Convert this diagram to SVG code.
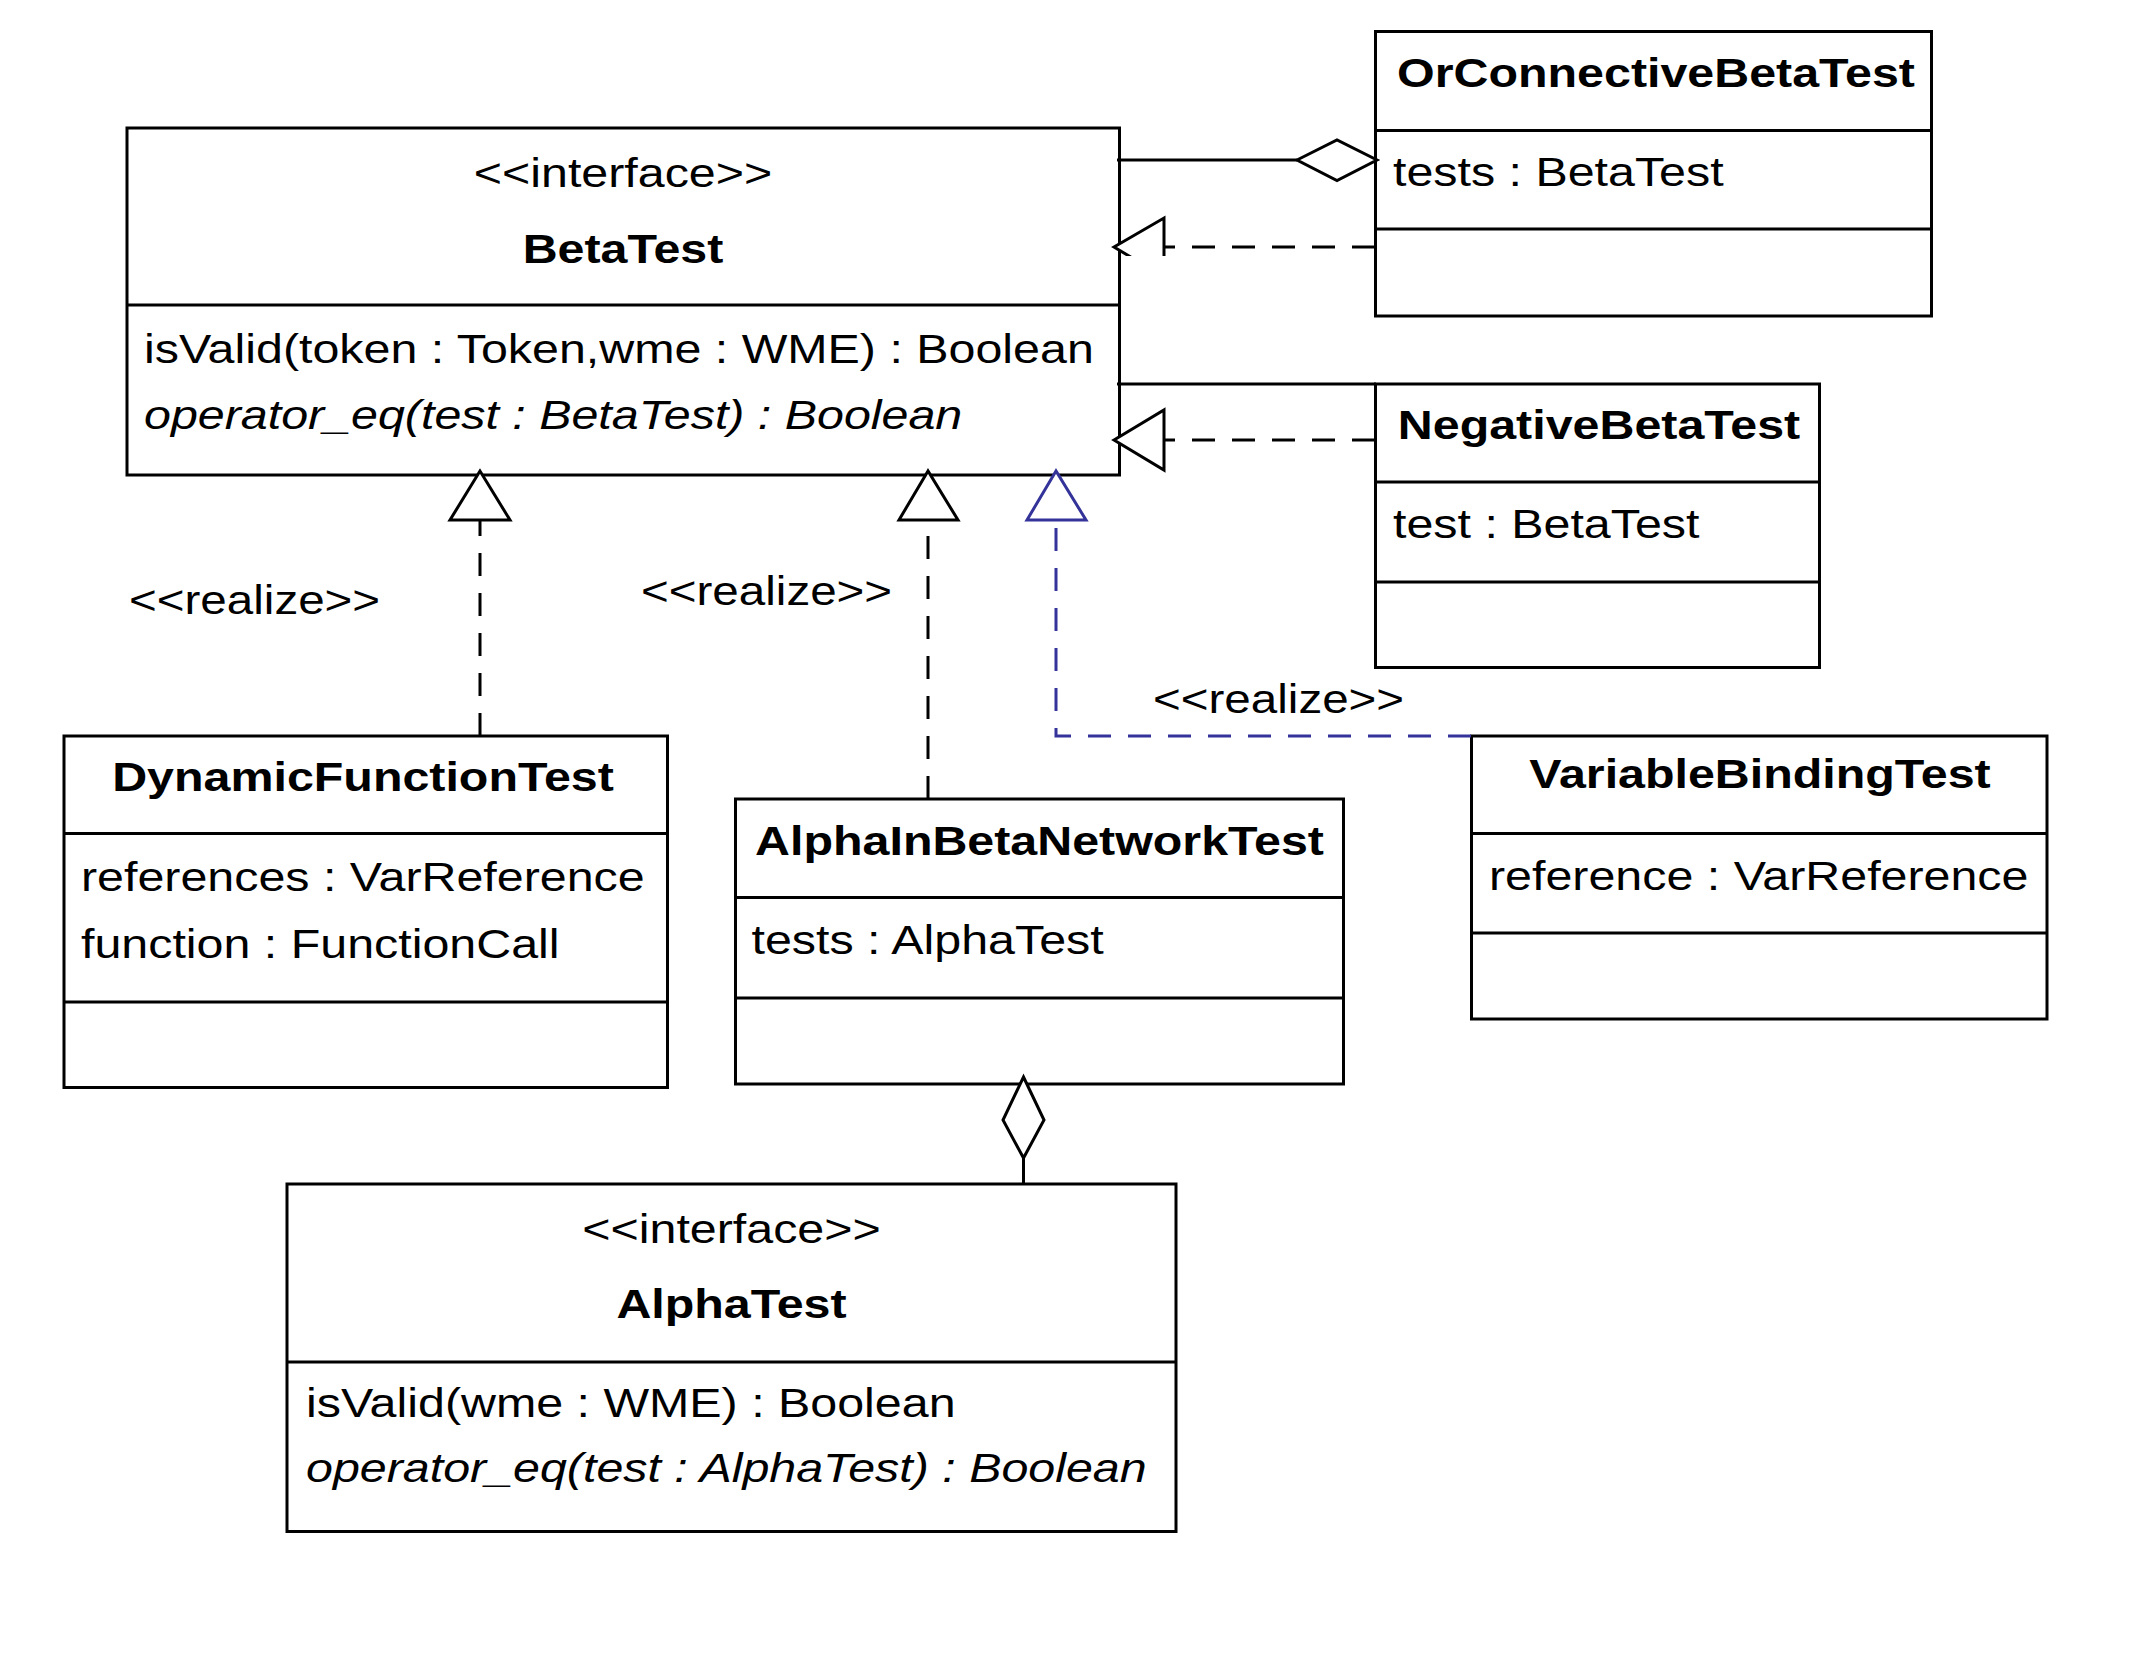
<svg xmlns="http://www.w3.org/2000/svg" width="2136" height="1660" viewBox="0 0 2136 1660">
<style>
  .box { fill: #ffffff; stroke: #000000; stroke-width: 3; }
  .div { stroke: #000000; stroke-width: 3; fill: none; }
  text { font-family: "Liberation Sans", Arial, sans-serif; font-size: 41px; fill: #000000; }
  .title { font-weight: bold; text-anchor: middle; }
  .center { text-anchor: middle; }
  .it { font-style: italic; }
  .solid { stroke: #000000; stroke-width: 3; fill: none; }
  .dash { stroke: #000000; stroke-width: 3; fill: none; stroke-dasharray: 23 17; }
  .dashblue { stroke: #333399; stroke-width: 3; fill: none; stroke-dasharray: 23 17; }
  .tri { fill: #ffffff; stroke: #000000; stroke-width: 3; }
  .triblue { fill: #ffffff; stroke: #333399; stroke-width: 3; }
  .dia { fill: #ffffff; stroke: #000000; stroke-width: 3; }
</style>
<defs>
  <clipPath id="clipTop">
    <rect x="1100" y="200" width="80" height="56"/>
  </clipPath>
</defs>
<rect width="2136" height="1660" fill="#ffffff"/>

<g id="BetaTest">
  <rect class="box" x="127" y="128" width="992.5" height="347"/>
  <line class="div" x1="127" y1="305" x2="1119.5" y2="305"/>
  <text class="center" transform="translate(623,187) scale(1.18,1)">&lt;&lt;interface&gt;&gt;</text>
  <text class="title" transform="translate(623,263) scale(1.18,1)">BetaTest</text>
  <text transform="translate(144,363) scale(1.18,1)">isValid(token : Token,wme : WME) : Boolean</text>
  <text class="it" transform="translate(144,429) scale(1.18,1)">operator_eq(test : BetaTest) : Boolean</text>
</g>

<g id="OrConnectiveBetaTest">
  <rect class="box" x="1375.5" y="31.5" width="556" height="284.5"/>
  <line class="div" x1="1375.5" y1="130.5" x2="1931.5" y2="130.5"/>
  <line class="div" x1="1375.5" y1="229" x2="1931.5" y2="229"/>
  <text class="title" transform="translate(1656,87) scale(1.18,1)">OrConnectiveBetaTest</text>
  <text transform="translate(1393,186) scale(1.18,1)">tests : BetaTest</text>
</g>

<g id="NegativeBetaTest">
  <rect class="box" x="1375.5" y="384" width="444" height="283.5"/>
  <line class="div" x1="1375.5" y1="482" x2="1819.5" y2="482"/>
  <line class="div" x1="1375.5" y1="582" x2="1819.5" y2="582"/>
  <text class="title" transform="translate(1599,439) scale(1.18,1)">NegativeBetaTest</text>
  <text transform="translate(1393,538) scale(1.18,1)">test : BetaTest</text>
</g>

<g id="DynamicFunctionTest">
  <rect class="box" x="64" y="736" width="603.5" height="351.5"/>
  <line class="div" x1="64" y1="833.5" x2="667.5" y2="833.5"/>
  <line class="div" x1="64" y1="1002" x2="667.5" y2="1002"/>
  <text class="title" transform="translate(363,791) scale(1.18,1)">DynamicFunctionTest</text>
  <text transform="translate(81,891) scale(1.18,1)">references : VarReference</text>
  <text transform="translate(81,958) scale(1.18,1)">function : FunctionCall</text>
</g>

<g id="AlphaInBetaNetworkTest">
  <rect class="box" x="735.5" y="799" width="608" height="285"/>
  <line class="div" x1="735.5" y1="897.5" x2="1343.5" y2="897.5"/>
  <line class="div" x1="735.5" y1="998" x2="1343.5" y2="998"/>
  <text class="title" transform="translate(1039.5,855) scale(1.18,1)">AlphaInBetaNetworkTest</text>
  <text transform="translate(751.5,954) scale(1.18,1)">tests : AlphaTest</text>
</g>

<g id="VariableBindingTest">
  <rect class="box" x="1471.5" y="736" width="575.5" height="283"/>
  <line class="div" x1="1471.5" y1="833.5" x2="2047" y2="833.5"/>
  <line class="div" x1="1471.5" y1="933" x2="2047" y2="933"/>
  <text class="title" transform="translate(1760,788) scale(1.18,1)">VariableBindingTest</text>
  <text transform="translate(1489,890) scale(1.18,1)">reference : VarReference</text>
</g>

<g id="AlphaTest">
  <rect class="box" x="287" y="1184" width="889" height="347.5"/>
  <line class="div" x1="287" y1="1362" x2="1176" y2="1362"/>
  <text class="center" transform="translate(731.5,1243) scale(1.18,1)">&lt;&lt;interface&gt;&gt;</text>
  <text class="title" transform="translate(731.5,1318) scale(1.18,1)">AlphaTest</text>
  <text transform="translate(306,1417) scale(1.18,1)">isValid(wme : WME) : Boolean</text>
  <text class="it" transform="translate(306,1482) scale(1.18,1)">operator_eq(test : AlphaTest) : Boolean</text>
</g>

<g id="connectors">
  <!-- OrConnective aggregation -->
  <line class="solid" x1="1117" y1="160" x2="1297" y2="160"/>
  <polygon class="dia" points="1297,160 1337,140 1377,160 1337,180.5"/>
  <!-- OrConnective realization (arrowhead clipped) -->
  <line class="dash" x1="1375" y1="247" x2="1164" y2="247"/>
  <polygon class="tri" clip-path="url(#clipTop)" points="1114,247 1164,218 1164,277"/>
  <!-- NegativeBetaTest association -->
  <line class="solid" x1="1117" y1="384" x2="1376" y2="384"/>
  <!-- NegativeBetaTest realization -->
  <line class="dash" x1="1375" y1="440" x2="1164" y2="440"/>
  <polygon class="tri" points="1114,440 1164,410 1164,470"/>
  <!-- DynamicFunctionTest realization -->
  <line class="dash" x1="480" y1="736" x2="480" y2="520"/>
  <polygon class="tri" points="480,471 450,520 510,520"/>
  <!-- AlphaInBetaNetworkTest realization -->
  <line class="dash" x1="928" y1="799" x2="928" y2="520"/>
  <polygon class="tri" points="928,471 899,520 958,520"/>
  <!-- VariableBindingTest realization (blue) -->
  <path class="dashblue" d="M1471,736 H1056 V520"/>
  <polygon class="triblue" points="1056,471 1027,520 1086,520"/>
  <!-- AlphaInBetaNetworkTest to AlphaTest aggregation -->
  <line class="solid" x1="1023.5" y1="1184" x2="1023.5" y2="1158"/>
  <polygon class="dia" points="1023.5,1077 1044,1120 1023.5,1158 1003,1120"/>
  <!-- labels -->
  <text transform="translate(129,614) scale(1.16,1)">&lt;&lt;realize&gt;&gt;</text>
  <text transform="translate(641,605) scale(1.16,1)">&lt;&lt;realize&gt;&gt;</text>
  <text transform="translate(1153,713) scale(1.16,1)">&lt;&lt;realize&gt;&gt;</text>
</g>
</svg>
